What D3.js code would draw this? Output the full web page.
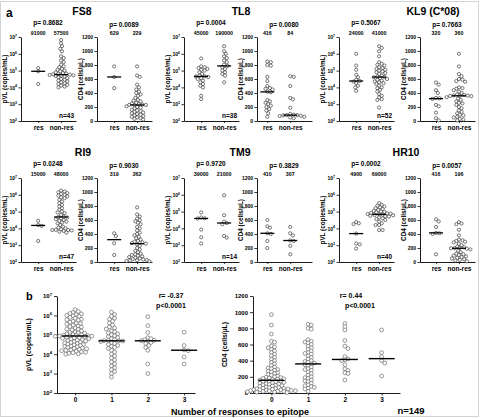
<!DOCTYPE html>
<html>
<head>
<meta charset="utf-8">
<script src="https://cdn.jsdelivr.net/npm/d3@7"></script>
<style>
  body { margin: 0; background: #fff; }
  svg { display: block; font-family: "Liberation Sans", Arial, sans-serif; font-weight: bold; }
</style>
</head>
<body>
<script>
// ---------- data (panel a) ----------
var epitopes = ['FS8', 'TL8', 'KL9 (C*08)', 'RI9', 'TM9', 'HR10'];
var groups = ['res', 'non-res'];
var vlP = ['p= 0.8682', 'p= 0.0004', 'p= 0.5067', 'p= 0.0248', 'p= 0.9720', 'p= 0.0002'];
var cd4P = ['p= 0.0089', 'p= 0.0080', 'p= 0.7663', 'p= 0.9030', 'p= 0.3829', 'p= 0.0057'];
var nLabels = ['n=43', 'n=38', 'n=52', 'n=47', 'n=14', 'n=40'];
var vlMedian = [[91000, 57500], [45000, 190000], [24000, 41000], [15000, 48000], [39000, 21000], [4900, 69000]];
var cd4Median = [[629, 229], [416, 84], [320, 360], [319, 262], [410, 307], [416, 196]];

// pVL, in log10(copies/mL): [res, non-res]
var vlFS8 = [[5.15, 4.96, 4.2],
  [6.82, 6.62, 6.45, 6.3, 6.15, 5.85, 5.75, 5.6, 5.5, 5.35, 5.25, 5.2, 5.1, 5.05, 5.0, 4.95, 4.9, 4.85, 4.82, 4.8,
   4.78, 4.76, 4.74, 4.72, 4.7, 4.68, 4.65, 4.6, 4.55, 4.5, 4.45, 4.4, 4.35, 4.3, 4.25, 4.2, 4.15, 4.1, 4.05, 4.0]];
var vlTL8 = [[5.72, 5.25, 5.2, 5.15, 5.1, 5.05, 5.0, 4.9, 4.8, 4.7, 4.66, 4.65, 4.62, 4.55, 4.5, 4.4, 4.3, 4.2, 4.1, 4.0, 3.5, 3.3],
  [6.45, 6.15, 6.0, 5.85, 5.75, 5.6, 5.5, 5.35, 5.28, 5.2, 5.1, 5.0, 4.9, 4.8, 4.7, 4.3]];
var vlKL9 = [[6.0, 5.3, 5.05, 4.75, 4.6, 4.45, 4.38, 4.35, 4.25, 4.1, 4.0, 3.8],
  [6.45, 6.35, 6.15, 5.85, 5.5, 5.4, 5.35, 5.3, 5.2, 5.15, 5.1, 5.05, 5.0, 4.95, 4.9, 4.85, 4.8, 4.7, 4.65, 4.62,
   4.6, 4.55, 4.5, 4.45, 4.4, 4.35, 4.3, 4.25, 4.2, 4.1, 4.0, 3.95, 3.85, 3.75, 3.6, 3.5, 3.4, 3.3, 3.25, 2.8]];
var vlRI9 = [[4.45, 4.2, 4.15, 3.25],
  [6.25, 6.2, 6.15, 6.1, 6.05, 6.0, 5.95, 5.9, 5.85, 5.8, 5.7, 5.6, 5.5, 5.4, 5.3, 5.2, 5.1, 5.0, 4.95, 4.9,
   4.8, 4.7, 4.68, 4.65, 4.6, 4.55, 4.5, 4.45, 4.4, 4.35, 4.3, 4.2, 4.1, 4.05, 4.0, 3.95, 3.92, 3.9, 3.9, 3.88,
   3.85, 3.8, 3.75]];
var vlTM9 = [[4.95, 4.65, 4.6, 4.59, 3.93, 3.47, 3.1],
  [5.97, 4.78, 4.4, 4.32, 4.25, 3.55, 3.45]];
var vlHR10 = [[4.38, 4.3, 4.26, 3.69, 3.1, 3.05, 2.8],
  [5.5, 5.4, 5.35, 5.3, 5.25, 5.2, 5.15, 5.1, 5.05, 5.0, 4.98, 4.95, 4.92, 4.9, 4.88, 4.86, 4.84, 4.82, 4.8, 4.78,
   4.75, 4.72, 4.7, 4.65, 4.6, 4.55, 4.5, 4.4, 4.3, 4.2, 4.2, 3.9, 3.9]];
var vlData = [vlFS8, vlTL8, vlKL9, vlRI9, vlTM9, vlHR10];

// CD4 cells/uL: [res, non-res]
var cd4FS8 = [[780, 629, 470],
  [780, 650, 630, 520, 480, 450, 420, 400, 380, 360, 330, 300, 290, 280, 260, 250, 240, 235, 230, 229,
   225, 210, 200, 190, 180, 160, 150, 140, 130, 120, 110, 100, 90, 80, 70, 60, 50, 40, 30, 20]];
var cd4TL8 = [[850, 840, 800, 790, 630, 570, 500, 470, 460, 450, 420, 410, 300, 280, 260, 240, 220, 200, 170, 150, 110, 60],
  [640, 630, 500, 330, 310, 190, 100, 90, 85, 84, 80, 75, 70, 60, 50, 40]];
var cd4KL9 = [[550, 520, 440, 400, 330, 325, 315, 230, 210, 120, 40, 10],
  [960, 780, 670, 640, 600, 590, 570, 560, 480, 470, 460, 440, 420, 400, 380, 370, 365, 362, 360, 358,
   355, 340, 320, 300, 280, 260, 250, 230, 200, 180, 150, 130, 110, 90, 80, 60, 50, 30, 20, 10]];
var cd4RI9 = [[410, 370, 268, 100],
  [780, 680, 650, 620, 600, 580, 560, 540, 500, 480, 450, 420, 400, 380, 360, 340, 320, 300, 290, 280,
   270, 262, 250, 230, 200, 180, 160, 140, 120, 110, 100, 90, 80, 70, 60, 50, 40, 35, 30, 25, 20, 15, 10]];
var cd4TM9 = [[600, 510, 490, 410, 400, 300, 200],
  [500, 410, 380, 307, 300, 230, 110]];
var cd4HR10 = [[610, 580, 500, 416, 410, 400, 110],
  [570, 550, 540, 460, 380, 320, 310, 300, 290, 280, 260, 240, 220, 210, 200, 198, 196, 190, 180, 160,
   140, 120, 110, 100, 90, 80, 70, 60, 50, 40, 30, 20, 10]];
var cd4Data = [cd4FS8, cd4TL8, cd4KL9, cd4RI9, cd4TM9, cd4HR10];

// ---------- data (panel b) ----------
var responses = [0, 1, 2, 3];
var vlResp0 = [6.3, 6.2, 6.15, 6.1, 6.08, 6.05, 6.0, 5.98, 5.95, 5.9, 5.85, 5.8, 5.78, 5.75, 5.7, 5.65, 5.6, 5.58, 5.55, 5.5,
  5.45, 5.42, 5.4, 5.35, 5.3, 5.28, 5.25, 5.2, 5.15, 5.12, 5.1, 5.08, 5.05, 5.02, 5.0, 4.98, 4.97, 4.96, 4.95, 4.94,
  4.93, 4.92, 4.9, 4.88, 4.86, 4.84, 4.82, 4.8, 4.78, 4.75, 4.72, 4.7, 4.68, 4.65, 4.62, 4.6, 4.58, 4.55, 4.52, 4.5,
  4.48, 4.45, 4.42, 4.4, 4.38, 4.35, 4.32, 4.3, 4.28, 4.25, 4.22, 4.2, 4.18, 4.15, 4.12, 4.1, 4.08, 4.05, 4.02, 4.0];
var vlResp1 = [6.17, 6.05, 5.95, 5.85, 5.8, 5.7, 5.6, 5.5, 5.4, 5.35, 5.3, 5.2, 5.15, 5.1, 5.05, 5.0, 4.95, 4.9, 4.85, 4.8,
  4.75, 4.72, 4.7, 4.69, 4.68, 4.65, 4.6, 4.55, 4.5, 4.45, 4.4, 4.35, 4.3, 4.2, 4.1, 4.0, 3.9, 3.8, 3.7, 3.6,
  3.5, 3.4, 3.3, 3.2, 3.1, 3.0, 2.82];
var vlResp2 = [5.93, 5.47, 5.12, 4.85, 4.8, 4.75, 4.72, 4.7, 4.68, 4.6, 4.55, 4.45, 4.35, 4.2, 3.5, 3.0];
var vlResp3 = [5.13, 4.45, 4.22, 4.18, 3.85, 3.5];
var vlRespMedian = [87000, 49000, 49000, 16000];

var cd4Resp0 = [970, 840, 730, 640, 630, 580, 570, 560, 540, 520, 500, 480, 460, 440, 420, 400, 380, 360, 340, 320,
  310, 300, 290, 280, 270, 260, 250, 240, 230, 220, 210, 200, 195, 190, 185, 180, 175, 170, 165, 160,
  155, 150, 145, 140, 135, 130, 125, 120, 115, 110, 105, 100, 95, 90, 85, 80, 75, 70, 65, 60,
  58, 55, 52, 50, 45, 42, 40, 38, 35, 32, 30, 28, 25, 22, 20, 18, 15, 12, 10, 5];
var cd4Resp1 = [850, 840, 800, 790, 660, 640, 630, 620, 600, 580, 560, 540, 520, 500, 490, 480, 460, 440, 420, 400,
  390, 380, 370, 360, 350, 340, 320, 300, 290, 280, 260, 240, 220, 200, 190, 180, 160, 150, 140, 120,
  100, 90, 80, 70, 60, 50, 20];
var cd4Resp2 = [860, 820, 780, 650, 580, 550, 450, 420, 410, 400, 350, 300, 280, 250, 240, 160];
var cd4Resp3 = [780, 500, 450, 400, 370, 210];
var cd4RespMedian = [157, 360, 415, 425];

var vlTickExp = [2, 3, 4, 5, 6, 7];
var cd4TickValues = [0, 200, 400, 600, 800, 1000, 1200];

// ---------- layout ----------
var svg = d3.select('body').append('svg').attr('width', 482).attr('height', 418);

svg.append('rect')
  .attr('x', 0.5).attr('y', 1.5).attr('width', 478).attr('height', 415)
  .attr('fill', 'none').attr('stroke', '#d4d4d4').attr('stroke-width', 1);

var colVl = [21, 184, 339];
var colCd4 = [97, 257, 420];
var cd4Pad = [0.75, 0.45, 0.7];
var rowTop = [37, 178];
var plotH = 84;
var plotW = 55;
var titleX = [82, 241, 433, 83, 240, 406];

svg.append('text').attr('x', 6).attr('y', 17).attr('font-size', 12).text('a');
svg.append('text').attr('x', 26).attr('y', 300).attr('font-size', 11).text('b');

// simple beeswarm: keep y, push x sideways until no overlap
function swarm(vals, y, cx, r, tight) {
  var pts = vals.map(function (v) { return { v: v, y: y(v) }; })
    .sort(function (a, b) { return a.y - b.y; });
  var placed = [];
  var step = r * 0.55;
  var minD = 2 * r * tight;
  pts.forEach(function (p) {
    for (var k = 0; k < 200; k++) {
      var off = (k % 2 ? 1 : -1) * Math.ceil(k / 2) * step;
      var x = cx + off;
      var ok = placed.every(function (q) {
        return (q.x - x) * (q.x - x) + (q.y - p.y) * (q.y - p.y) >= minD * minD;
      });
      if (ok) { p.x = x; break; }
    }
    placed.push(p);
  });
  return placed;
}

function vlLabel(sel, fs) {
  sel.selectAll('.tick text').each(function (d) {
    var t = d3.select(this).text(null);
    t.append('tspan').text('10');
    t.append('tspan').attr('dy', -fs * 0.45).attr('font-size', fs * 0.7).text(Math.round(Math.log10(d)));
  });
}

function styleAxis(g, fs) {
  g.attr('font-family', null).attr('font-size', fs);
  g.selectAll('.domain').attr('stroke', '#000').attr('stroke-width', 0.9);
  g.selectAll('.tick line').attr('stroke', '#000').attr('stroke-width', 0.8);
  g.selectAll('.tick text').attr('fill', '#000');
}

function smallPanel(x0, pad, top, y, data, med, pText, pY, kind, nText) {
  var bot = top + plotH;
  var x = d3.scaleLinear().domain([-pad, -pad + 2.4]).range([x0, x0 + plotW]);
  var g = svg.append('g');

  var ay = g.append('g').attr('transform', 'translate(' + x0 + ',0)');
  if (kind === 'vl') {
    ay.call(d3.axisLeft(y).tickValues(vlTickExp.map(function (e) { return Math.pow(10, e); }))
      .tickSize(2.5).tickSizeOuter(0).tickPadding(1.5));
    styleAxis(ay, 5);
    vlLabel(ay, 5);
  } else {
    ay.call(d3.axisLeft(y).tickValues(cd4TickValues).tickFormat(d3.format('d'))
      .tickSize(2.5).tickSizeOuter(0).tickPadding(1.5));
    styleAxis(ay, 5);
  }

  var ax = g.append('g').attr('transform', 'translate(0,' + bot + ')');
  ax.call(d3.axisBottom(x).tickValues([0, 1]).tickFormat(function (i) { return groups[i]; })
    .tickSize(2).tickSizeOuter(0).tickPadding(2));
  styleAxis(ax, 6.5);

  g.append('text')
    .attr('transform', 'translate(' + (x0 - 14) + ',' + (top + bot) / 2 + ') rotate(-90)')
    .attr('text-anchor', 'middle').attr('font-size', 6.3)
    .text(kind === 'vl' ? 'pVL (copies/mL)' : 'CD4 (cells/\u00b5L)');

  g.append('text').attr('x', x0 + 27).attr('y', pY).attr('text-anchor', 'middle')
    .attr('font-size', 6.5).text(pText);

  groups.forEach(function (gr, j) {
    var cx = x(j);
    g.append('text').attr('x', cx).attr('y', top - 2).attr('text-anchor', 'middle')
      .attr('font-size', 5.3).text(med[j]);
    g.selectAll(null).data(swarm(data[j], y, cx, 1.6, 0.92)).enter().append('circle')
      .attr('cx', function (d) { return d.x; }).attr('cy', function (d) { return d.y; })
      .attr('r', 1.6).attr('fill', '#fff').attr('stroke', '#222').attr('stroke-width', 0.6);
    g.append('line').attr('x1', cx - 7).attr('x2', cx + 7)
      .attr('y1', y(med[j])).attr('y2', y(med[j]))
      .attr('stroke', '#000').attr('stroke-width', 1.3);
  });

  if (nText) {
    g.append('text').attr('x', x0 + plotW - 2).attr('y', bot - 3).attr('text-anchor', 'end')
      .attr('font-size', 6.5).text(nText);
  }
}

epitopes.forEach(function (name, i) {
  var col = i % 3, row = Math.floor(i / 3);
  var top = rowTop[row], bot = top + plotH;
  svg.append('text').attr('x', titleX[i]).attr('y', top - 22).attr('text-anchor', 'middle')
    .attr('font-size', 10.5).text(name);
  var yVl = d3.scaleLog().domain([1e2, 1e7]).range([bot, top]);
  var yCd = d3.scaleLinear().domain([0, 1200]).range([bot, top]);
  var vl = vlData[i].map(function (a) { return a.map(function (v) { return Math.pow(10, v); }); });
  smallPanel(colVl[col], 0.75, top, yVl, vl, vlMedian[i], vlP[i], top - 12, 'vl', nLabels[i]);
  smallPanel(colCd4[col], cd4Pad[col], top, yCd, cd4Data[i], cd4Median[i], cd4P[i], top - 10, 'cd4', null);
});

// ---------- panel b ----------
function bigPanel(x0, x1, y, data, med, kind, rText, rX, pX) {
  var top = 296, bot = 393;
  var x = d3.scaleLinear().domain([-0.5, 3.3 + (kind === 'cd4' ? 0.2 : 0)]).range([x0, x1]);
  var g = svg.append('g');

  var ay = g.append('g').attr('transform', 'translate(' + x0 + ',0)');
  if (kind === 'vl') {
    ay.call(d3.axisLeft(y).tickValues(vlTickExp.map(function (e) { return Math.pow(10, e); }))
      .tickSize(3).tickSizeOuter(0).tickPadding(2));
    styleAxis(ay, 6);
    vlLabel(ay, 6);
  } else {
    ay.call(d3.axisLeft(y).tickValues(cd4TickValues).tickFormat(d3.format('d'))
      .tickSize(3).tickSizeOuter(0).tickPadding(2));
    styleAxis(ay, 6);
  }
  var ax = g.append('g').attr('transform', 'translate(0,' + bot + ')');
  ax.call(d3.axisBottom(x).tickValues(responses).tickFormat(d3.format('d'))
    .tickSize(2.5).tickSizeOuter(0).tickPadding(2));
  styleAxis(ax, 6.5);

  g.append('text')
    .attr('transform', 'translate(' + (x0 - 26) + ',' + (top + bot) / 2 + ') rotate(-90)')
    .attr('text-anchor', 'middle').attr('font-size', 6.8)
    .text(kind === 'vl' ? 'pVL (copies/mL)' : 'CD4 (cells/\u00b5L)');

  g.append('text').attr('x', rX).attr('y', 298).attr('text-anchor', 'middle')
    .attr('font-size', 7).text(rText);
  g.append('text').attr('x', pX).attr('y', 308).attr('text-anchor', 'middle')
    .attr('font-size', 7).text('p<0.0001');

  responses.forEach(function (k) {
    var cx = x(k);
    g.selectAll(null).data(swarm(data[k], y, cx, 1.9, 0.85)).enter().append('circle')
      .attr('cx', function (d) { return d.x; }).attr('cy', function (d) { return d.y; })
      .attr('r', 1.9).attr('fill', '#fff').attr('stroke', '#555').attr('stroke-width', 0.6);
    g.append('line').attr('x1', cx - 13).attr('x2', cx + 13)
      .attr('y1', y(med[k])).attr('y2', y(med[k]))
      .attr('stroke', '#000').attr('stroke-width', 1.4);
  });
}

var yVlB = d3.scaleLog().domain([1e2, 1e7]).range([393, 296]);
var yCdB = d3.scaleLinear().domain([0, 1200]).range([393, 296]);
var vlB = [vlResp0, vlResp1, vlResp2, vlResp3].map(function (a) {
  return a.map(function (v) { return Math.pow(10, v); });
});
bigPanel(57, 195, yVlB, vlB, vlRespMedian, 'vl', 'r= -0.37', 171, 171);
bigPanel(253, 400, yCdB, [cd4Resp0, cd4Resp1, cd4Resp2, cd4Resp3], cd4RespMedian, 'cd4', 'r= 0.44', 351, 360);

svg.append('text').attr('x', 240).attr('y', 415).attr('text-anchor', 'middle')
  .attr('font-size', 9).text('Number of responses to epitope');
svg.append('text').attr('x', 411).attr('y', 414).attr('text-anchor', 'middle')
  .attr('font-size', 9.5).text('n=149');
</script>
</body>
</html>
